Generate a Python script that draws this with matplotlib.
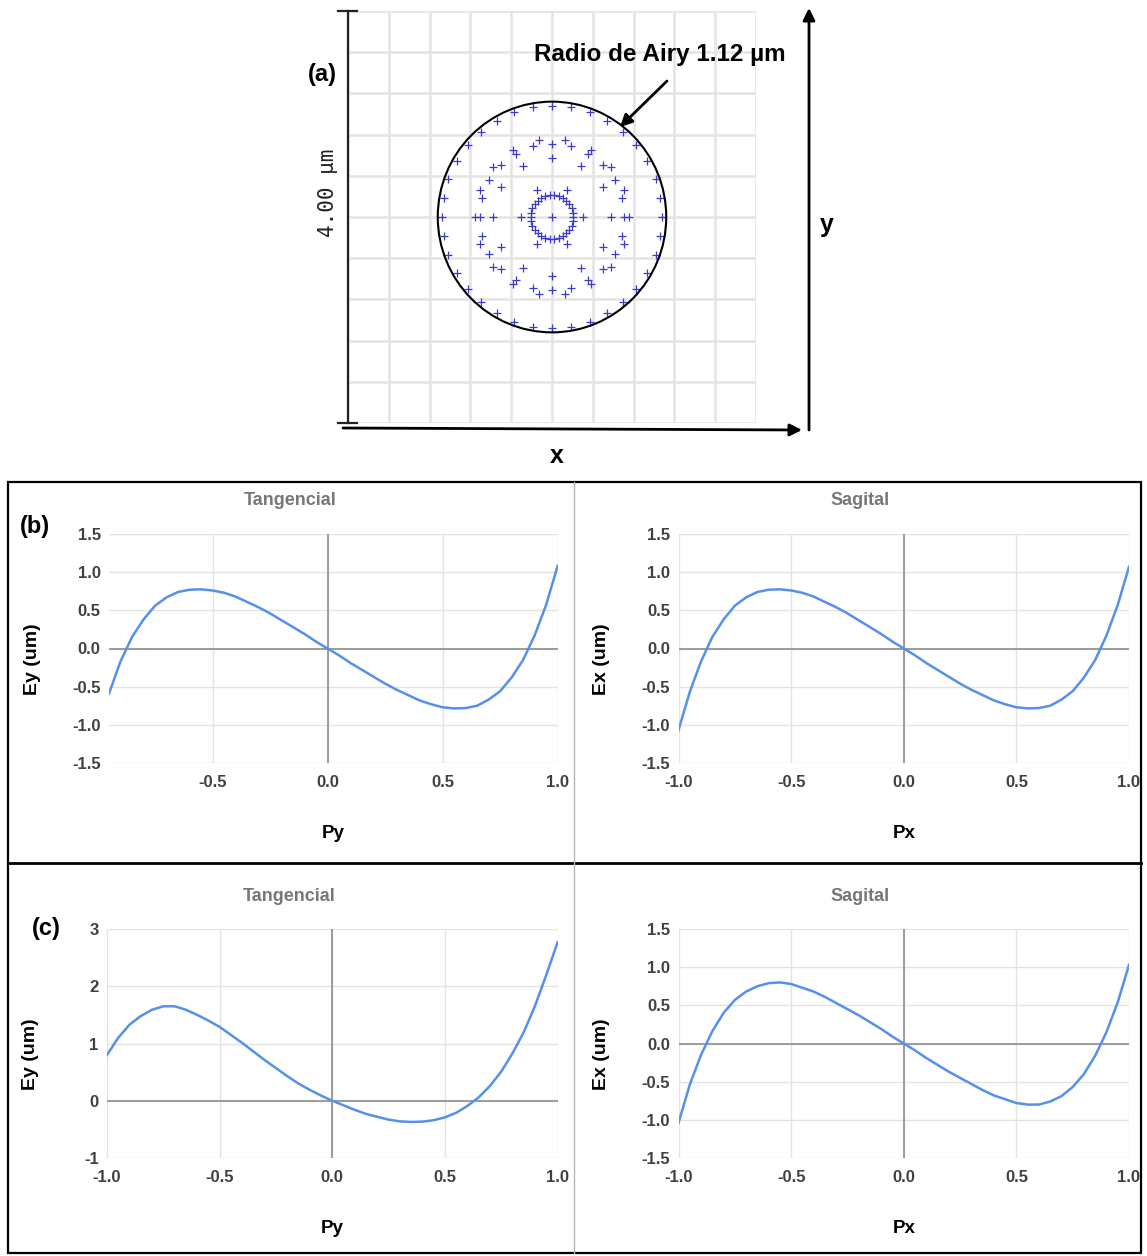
import numpy as np
import matplotlib.pyplot as plt
from matplotlib.patches import Circle, Rectangle

plt.rcParams['font.family'] = ['Liberation Sans', 'DejaVu Sans']

W, H = 1147, 1256

# (a) spot diagram, values in um
airy_radius = 1.12
ring_radius = [0.30, 0.575, 0.755, 0.71, 0.21, 1.08]
ring_count = [6, 12, 18, 24, 30, 36]
grid_half = 2.0
grid_step = 0.4

# (b), (c) ray fans
pupil = [-1.00, -0.95, -0.90, -0.85, -0.80, -0.75, -0.70, -0.65, -0.60, -0.55,
         -0.50, -0.45, -0.40, -0.35, -0.30, -0.25, -0.20, -0.15, -0.10, -0.05,
         0.00, 0.05, 0.10, 0.15, 0.20, 0.25, 0.30, 0.35, 0.40, 0.45,
         0.50, 0.55, 0.60, 0.65, 0.70, 0.75, 0.80, 0.85, 0.90, 0.95, 1.00]

# tangential (b) starts at Py = -0.95
ey_b = [-0.59, -0.17, 0.15, 0.38, 0.56, 0.67, 0.74, 0.77, 0.775, 0.76,
        0.73, 0.68, 0.61, 0.54, 0.46, 0.37, 0.28, 0.19, 0.09, 0.00,
        -0.09, -0.19, -0.28, -0.37, -0.46, -0.54, -0.61, -0.68, -0.73, -0.77,
        -0.785, -0.78, -0.75, -0.67, -0.56, -0.38, -0.15, 0.17, 0.57, 1.08]
ex_b = [-1.07, -0.57, -0.17, 0.15, 0.38, 0.56, 0.67, 0.74, 0.77, 0.775,
        0.76, 0.73, 0.68, 0.61, 0.54, 0.46, 0.37, 0.28, 0.19, 0.09, 0.00,
        -0.09, -0.19, -0.28, -0.37, -0.46, -0.54, -0.61, -0.68, -0.73, -0.77,
        -0.785, -0.78, -0.75, -0.67, -0.56, -0.38, -0.15, 0.17, 0.57, 1.07]
ey_c = [0.80, 1.10, 1.33, 1.48, 1.59, 1.65, 1.65, 1.59, 1.50, 1.40,
        1.29, 1.15, 1.01, 0.86, 0.71, 0.57, 0.43, 0.30, 0.19, 0.09, 0.00,
        -0.08, -0.16, -0.23, -0.28, -0.33, -0.36, -0.37, -0.365, -0.34, -0.29,
        -0.21, -0.09, 0.06, 0.26, 0.51, 0.83, 1.20, 1.66, 2.20, 2.77]
ex_c = [-1.04, -0.54, -0.15, 0.16, 0.40, 0.57, 0.68, 0.75, 0.79, 0.80,
        0.78, 0.73, 0.68, 0.61, 0.53, 0.45, 0.37, 0.28, 0.19, 0.09, 0.00,
        -0.09, -0.19, -0.28, -0.37, -0.45, -0.53, -0.61, -0.68, -0.73, -0.78,
        -0.80, -0.80, -0.76, -0.69, -0.57, -0.40, -0.16, 0.15, 0.54, 1.03]

fig = plt.figure(figsize=(W / 100, H / 100), dpi=100)


def px_axes(l, t, r, b):
    return fig.add_axes([l / W, 1 - b / H, (r - l) / W, (b - t) / H])


# ---- (a) spot diagram ----
ax = px_axes(348, 11, 756, 423)
ax.set_xlim(-grid_half, grid_half)
ax.set_ylim(-grid_half, grid_half)
ticks = np.arange(-grid_half, grid_half + 0.01, grid_step)
ax.set_xticks(ticks)
ax.set_yticks(ticks)
ax.tick_params(length=0, labelbottom=False, labelleft=False)
ax.grid(color='#e4e4e4', lw=1.8)
ax.set_axisbelow(True)
for s in ax.spines.values():
    s.set_visible(False)

ax.plot([0], [0], '+', color='#3a3acb', ms=6, mew=0.9)
for r, n in zip(ring_radius, ring_count):
    ang = np.arange(n) * 2 * np.pi / n
    ax.plot(r * np.cos(ang), r * np.sin(ang), '+', color='#3a3acb', ms=6, mew=0.9)
ax.add_patch(Circle((0, 0), airy_radius, fill=False, ec='black', lw=1.5, zorder=4))

# scale bar on the left edge
ax.plot([-grid_half, -grid_half], [-grid_half, grid_half], color='#222222', lw=1.6, clip_on=False)
for yy in (-grid_half, grid_half):
    ax.plot([-2.098, -1.912], [yy, yy], color='#222222', lw=1.6, clip_on=False)
fig.text(328 / W, 1 - 193 / H, '4.00 µm', rotation=90, ha='center', va='center',
         fontsize=15, family=['DejaVu Sans Mono', 'DejaVu Sans'], color='#222222')


# ---- (b), (c) ray fans ----
def fan(l, t, r, b, p, e, xlim, ylim, xticks, yticks, yfmt, title, xlabel, ylabel, ty):
    ax = px_axes(l, t, r, b)
    ax.plot(p, e, color='#5590ec', lw=1.8, zorder=3, solid_joinstyle='round')
    ax.set_xlim(xlim)
    ax.set_ylim(ylim)
    ax.set_xticks(xticks)
    ax.set_yticks(yticks)
    ax.set_xticklabels([f'{v:.1f}' for v in xticks])
    ax.set_yticklabels([yfmt.format(v) for v in yticks])
    ax.grid(color='#e3e3e3', lw=1)
    ax.axhline(0, color='#9c9c9c', lw=1.4, zorder=2)
    ax.axvline(0, color='#9c9c9c', lw=1.4, zorder=2)
    for s in ax.spines.values():
        s.set_visible(False)
    ax.tick_params(axis='x', length=0, labelsize=12, labelcolor='#404040', pad=8.5)
    ax.tick_params(axis='y', length=0, labelsize=12, labelcolor='#404040', pad=6)
    for lab in ax.get_xticklabels() + ax.get_yticklabels():
        lab.set_fontweight('bold')
    ax.text(0.404, ty, title, transform=ax.transAxes, ha='center', va='center',
            color='#777777', fontsize=13, fontweight='bold')
    ax.text(0.5, -0.306, xlabel, transform=ax.transAxes, ha='center', va='center',
            fontsize=13.5, fontweight='bold')
    ax.text(-0.17, 0.455, ylabel, transform=ax.transAxes, ha='center', va='center',
            rotation=90, fontsize=14, fontweight='bold')
    return ax


half_ticks = [-1.5, -1.0, -0.5, 0.0, 0.5, 1.0, 1.5]
fan(109, 534, 557.6, 763, pupil[1:], ey_b, (-0.95, 1.0), (-1.5, 1.5),
    [-0.5, 0.0, 0.5, 1.0], half_ticks, '{:.1f}', 'Tangencial', 'Py', 'Ey (um)', 1.148)
fan(678.5, 534, 1129, 763, pupil, ex_b, (-1.0, 1.0), (-1.5, 1.5),
    [-1.0, -0.5, 0.0, 0.5, 1.0], half_ticks, '{:.1f}', 'Sagital', 'Px', 'Ex (um)', 1.148)
fan(107, 929, 557.6, 1158, pupil, ey_c, (-1.0, 1.0), (-1, 3),
    [-1.0, -0.5, 0.0, 0.5, 1.0], [-1, 0, 1, 2, 3], '{:d}', 'Tangencial', 'Py', 'Ey (um)', 1.144)
fan(678.5, 929, 1129, 1158, pupil, ex_c, (-1.0, 1.0), (-1.5, 1.5),
    [-1.0, -0.5, 0.0, 0.5, 1.0], half_ticks, '{:.1f}', 'Sagital', 'Px', 'Ex (um)', 1.144)

# ---- overlay: arrows, frame, panel letters ----
ov = fig.add_axes([0, 0, 1, 1])
ov.set_xlim(0, W)
ov.set_ylim(H, 0)
ov.axis('off')

arrow = dict(arrowstyle='-|>', lw=2, color='black', mutation_scale=18, shrinkA=0, shrinkB=0)
ov.annotate('', xy=(802, 430), xytext=(343, 428), arrowprops=arrow)
ov.annotate('', xy=(809, 8), xytext=(809, 430), arrowprops=arrow)
ov.annotate('', xy=(620, 127), xytext=(667, 81), arrowprops=arrow)

ov.text(557, 456, 'x', ha='center', va='center', fontsize=18, fontweight='bold')
ov.text(827, 225, 'y', ha='center', va='center', fontsize=18, fontweight='bold')
ov.text(322, 74, '(a)', ha='center', va='center', fontsize=17, fontweight='bold')
ov.text(659.5, 54, 'Radio de Airy 1.12 µm', ha='center', va='center',
        fontsize=17.5, fontweight='bold')

ov.add_patch(Rectangle((8, 482), 1133, 771, fill=False, ec='black', lw=1.6))
ov.plot([8, 1141], [863, 863], color='black', lw=2)
ov.plot([574, 574], [482, 1253], color='#b5b5b5', lw=1)
ov.text(35, 527, '(b)', ha='center', va='center', fontsize=17, fontweight='bold')
ov.text(46, 929, '(c)', ha='center', va='center', fontsize=17, fontweight='bold')

fig.savefig('out.png', dpi=100)
